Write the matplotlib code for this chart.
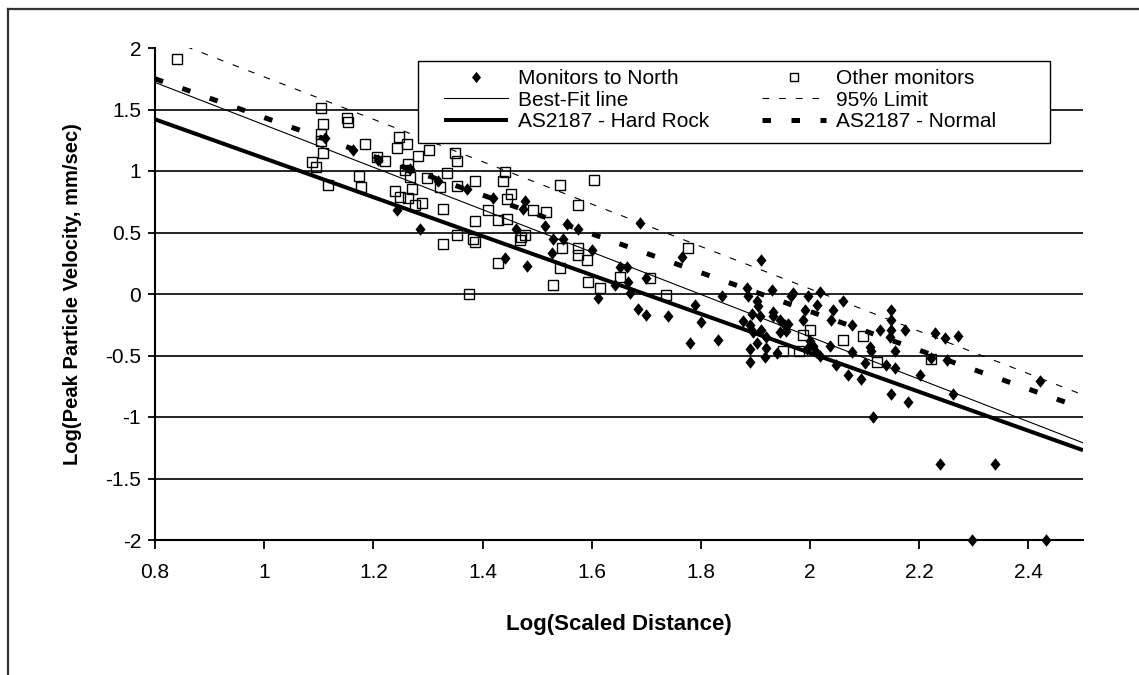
import matplotlib
matplotlib.use("Agg")
import matplotlib.pyplot as plt
from matplotlib.path import Path
from matplotlib.patches import Rectangle
from matplotlib.lines import Line2D

plt.rcParams['font.family'] = ['Liberation Sans', 'DejaVu Sans']
plt.rcParams['axes.unicode_minus'] = False

# ---------------- data ----------------
north_x = [1.111, 1.163, 1.209, 1.267, 1.319, 1.371, 1.243, 1.285, 1.420, 1.478,
           1.475, 1.462, 1.441, 1.481, 1.514, 1.554, 1.575, 1.530, 1.548, 1.527,
           1.600, 1.612, 1.642, 1.652, 1.664, 1.667, 1.670, 1.685, 1.700, 1.700,
           1.688, 1.740, 1.765, 1.789, 1.780, 1.801, 1.832, 1.838, 1.911,
           1.884, 1.887, 1.902, 1.905, 1.893, 1.908, 1.877, 1.890, 1.896, 1.910,
           1.920, 1.902, 1.890, 1.920, 1.917, 1.939, 1.890, 1.932, 1.932, 1.945,
           1.960, 1.966, 1.930, 1.956, 1.969, 1.997, 2.018, 2.012, 2.042, 2.061,
           2.039, 1.990, 1.987, 1.954, 1.945, 2.000, 2.005, 2.010, 2.018, 1.995,
           2.076, 2.128, 2.149, 2.149, 2.149, 2.146, 2.174, 2.155, 2.109, 2.112,
           2.076, 2.036, 2.048, 2.070, 2.094, 2.100, 2.140, 2.155, 2.201, 2.149,
           2.180, 2.116, 2.229, 2.247, 2.271, 2.222, 2.250, 2.262, 2.421, 2.238,
           2.339, 2.296, 2.433]
north_y = [1.27, 1.17, 1.09, 1.02, 0.92, 0.85, 0.68, 0.53, 0.78, 0.76,
           0.69, 0.53, 0.29, 0.23, 0.55, 0.57, 0.53, 0.45, 0.45, 0.33,
           0.36, -0.03, 0.07, 0.22, 0.22, 0.10, 0.01, -0.12, -0.17, 0.13,
           0.58, -0.18, 0.30, -0.09, -0.40, -0.23, -0.37, -0.02, 0.28,
           0.05, -0.02, -0.06, -0.10, -0.16, -0.18, -0.22, -0.25, -0.31, -0.29,
           -0.35, -0.40, -0.45, -0.44, -0.51, -0.48, -0.55, -0.18, -0.15, -0.21,
           -0.24, -0.02, 0.03, -0.30, 0.01, -0.02, 0.02, -0.09, -0.13, -0.06,
           -0.21, -0.13, -0.21, -0.25, -0.31, -0.38, -0.42, -0.47, -0.50, -0.45,
           -0.25, -0.29, -0.13, -0.21, -0.29, -0.35, -0.29, -0.46, -0.43, -0.46,
           -0.47, -0.42, -0.58, -0.66, -0.69, -0.56, -0.58, -0.60, -0.66, -0.81,
           -0.88, -1.00, -0.32, -0.36, -0.34, -0.52, -0.54, -0.81, -0.71, -1.38,
           -1.38, -2.00, -2.00]

other_x = [0.841, 1.105, 1.151, 1.154, 1.107, 1.105, 1.105, 1.107, 1.087, 1.095,
           1.117, 1.185, 1.206, 1.221, 1.174, 1.177, 1.247, 1.262, 1.243, 1.282,
           1.302, 1.349, 1.353, 1.264, 1.258, 1.267, 1.298, 1.334, 1.322, 1.353,
           1.386, 1.240, 1.249, 1.264, 1.270, 1.290, 1.276, 1.328, 1.441, 1.437,
           1.453, 1.445, 1.410, 1.429, 1.445, 1.386, 1.353, 1.383, 1.386, 1.328,
           1.471, 1.468, 1.478, 1.493, 1.517, 1.575, 1.542, 1.605, 1.545, 1.575,
           1.575, 1.591, 1.542, 1.429, 1.530, 1.594, 1.615, 1.376, 1.652, 1.707,
           1.737, 1.777, 1.950, 1.980, 2.000, 1.987, 2.061, 2.097, 2.122, 2.222]
other_y = [1.91, 1.51, 1.43, 1.40, 1.38, 1.30, 1.24, 1.15, 1.07, 1.03,
           0.89, 1.22, 1.11, 1.08, 0.96, 0.87, 1.28, 1.22, 1.19, 1.12,
           1.17, 1.15, 1.08, 1.06, 1.01, 0.95, 0.94, 0.98, 0.87, 0.88,
           0.92, 0.84, 0.79, 0.78, 0.85, 0.74, 0.72, 0.69, 0.99, 0.92,
           0.81, 0.77, 0.68, 0.60, 0.61, 0.59, 0.48, 0.45, 0.42, 0.41,
           0.46, 0.44, 0.48, 0.68, 0.67, 0.72, 0.89, 0.93, 0.37, 0.37,
           0.32, 0.28, 0.21, 0.25, 0.07, 0.10, 0.05, 0.00, 0.14, 0.13,
           -0.01, 0.37, -0.46, -0.46, -0.29, -0.33, -0.37, -0.34, -0.55, -0.53]

line_x = [0.8, 2.5]
bestfit_y = [1.72, -1.21]
limit95_y = [2.11, -0.82]
hardrock_y = [1.42, -1.27]
normal_y = [1.75, -0.93]

x_ticks = [0.8, 1.0, 1.2, 1.4, 1.6, 1.8, 2.0, 2.2, 2.4]
x_tick_labels = ["0.8", "1", "1.2", "1.4", "1.6", "1.8", "2", "2.2", "2.4"]
y_ticks = [-2, -1.5, -1, -0.5, 0, 0.5, 1, 1.5, 2]
y_tick_labels = ["-2", "-1.5", "-1", "-0.5", "0", "0.5", "1", "1.5", "2"]
grid_levels = [-1.5, -1, -0.5, 0, 0.5, 1, 1.5]

# ---------------- figure ----------------
W, H = 1139, 675
fig = plt.figure(figsize=(W / 100, H / 100), dpi=100)
ax = fig.add_axes([155 / W, 1 - 540 / H, (1083 - 155) / W, (540 - 48) / H])

for g in grid_levels:
    ax.axhline(g, color='black', linewidth=1.2, zorder=1)

diamond = Path([(0, 1), (0.8, 0), (0, -1), (-0.8, 0), (0, 1)],
               [Path.MOVETO, Path.LINETO, Path.LINETO, Path.LINETO, Path.CLOSEPOLY])

h_north, = ax.plot(north_x, north_y, linestyle='none', marker=diamond, markersize=9,
                   color='black', markeredgewidth=0, zorder=3, clip_on=False)
h_other, = ax.plot(other_x, other_y, linestyle='none', marker='s', markersize=6.8,
                   markerfacecolor='none', markeredgecolor='black', markeredgewidth=1.0,
                   zorder=3, clip_on=False)
h_fit, = ax.plot(line_x, bestfit_y, color='black', linewidth=0.8, zorder=2)
h_95, = ax.plot(line_x, limit95_y, color='black', linewidth=0.8,
                linestyle=(0, (6, 9)), zorder=2)
h_hard, = ax.plot(line_x, hardrock_y, color='black', linewidth=2.9, zorder=2,
                  solid_capstyle='butt')
h_norm, = ax.plot(line_x, normal_y, color='black', linewidth=3.6,
                  linestyle=(0, (1.7, 4.1)), dash_capstyle='butt', zorder=2)

ax.set_xlim(0.8, 2.5)
ax.set_ylim(-2, 2)
ax.set_xticks(x_ticks)
ax.set_xticklabels(x_tick_labels)
ax.set_yticks(y_ticks)
ax.set_yticklabels(y_tick_labels)
ax.tick_params(axis='x', direction='out', length=6.5, width=1.3, pad=10,
               labelsize=15, colors='black')
ax.tick_params(axis='y', direction='out', length=5, width=1.3, pad=5,
               labelsize=15, colors='black')
for s in ['top', 'right']:
    ax.spines[s].set_visible(False)
for s in ['left', 'bottom']:
    ax.spines[s].set_linewidth(1.5)
    ax.spines[s].set_color('black')

ax.set_xlabel("Log(Scaled Distance)", fontsize=16, fontweight='bold')
ax.xaxis.set_label_coords(0.5, -0.150)
ax.set_ylabel("Log(Peak Particle Velocity, mm/sec)", fontsize=14.5, fontweight='bold')
ax.yaxis.set_label_coords(-0.079, 0.5)

# legend frame
ax.add_patch(Rectangle(((418 - 155) / 928, (540 - 143) / 492), (1050 - 418) / 928,
                       (143 - 61) / 492, transform=ax.transAxes, facecolor='white',
                       edgecolor='black', linewidth=1.0, zorder=4.5, clip_on=False))
leg = ax.legend([h_north, h_fit, h_hard, h_other, h_95, h_norm],
                ["Monitors to North", "Best-Fit line", "AS2187 - Hard Rock",
                 "Other monitors", "95% Limit", "AS2187 - Normal"],
                ncol=2, loc='upper left',
                bbox_to_anchor=((444 - 155) / 928, (540 - 69) / 492),
                frameon=False, fontsize=15, borderpad=0, borderaxespad=0,
                handlelength=3.08, handletextpad=0.48, columnspacing=2.5,
                labelspacing=0.12, markerscale=0.9)
leg.set_zorder(5)

# outer chart border (left and top edges visible)
fig.add_artist(Line2D([8 / W, 8 / W], [0, 1 - 9 / H], color='#333333', linewidth=1.6))
fig.add_artist(Line2D([8 / W, 1], [1 - 9 / H, 1 - 9 / H], color='#333333', linewidth=1.6))

fig.savefig("out.png", dpi=100)
